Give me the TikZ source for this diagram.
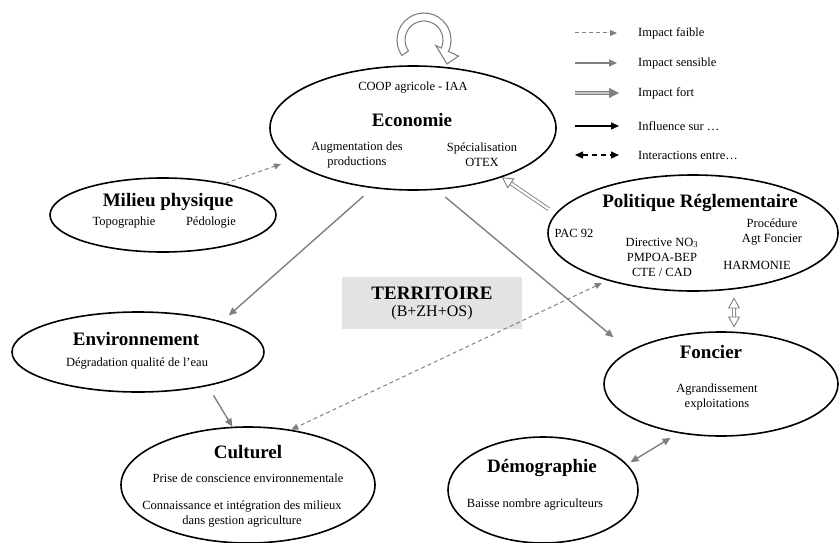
\documentclass[tikz,border=0pt]{standalone}
\usepackage{fontspec}
\setmainfont{Liberation Serif}
\usetikzlibrary{shapes.geometric, arrows.meta}

\tikzset{
  bulle/.style={draw, ellipse, line width=1.6pt, inner sep=0pt},
  titre/.style={font=\fontsize{19}{21}\selectfont\bfseries, inner sep=0pt},
  texte/.style={font=\fontsize{12.5}{15}\selectfont, align=center, inner sep=0pt},
  legende/.style={font=\fontsize{12.5}{15}\selectfont, anchor=west, inner sep=0pt},
  faible/.style={gray, line width=1pt, dash pattern=on 4pt off 3pt, >={Triangle[length=7pt, width=6pt]}, ->},
  sensible/.style={gray, line width=1.4pt, >={Triangle[length=8pt, width=7pt]}, ->},
  fort/.style={gray, line width=0.9pt, double=white, double distance=2.2pt, >={Triangle[open, length=11pt, width=12pt]}, ->},
  fortplein/.style={gray, line width=0.9pt, double=gray!45, double distance=2pt, >={Triangle[length=10pt, width=10pt]}, ->},
  influence/.style={black, line width=1.4pt, >={Triangle[length=8pt, width=7pt]}, ->},
  interaction/.style={black, line width=1.4pt, dash pattern=on 5pt off 4pt, >={Triangle[length=8pt, width=7pt]}, <->},
}

\begin{document}
\begin{tikzpicture}[x=1pt, y=-1pt]

    \useasboundingbox (0,0) rectangle (840,543);

    % 1. Les ellipses
    \node[bulle, minimum width=286pt, minimum height=124pt] (eco) at (413,128) {};
    \node[bulle, minimum width=226pt, minimum height=74pt] (mil) at (163,215) {};
    \node[bulle, minimum width=290pt, minimum height=116pt] (pol) at (693,233) {};
    \node[bulle, minimum width=252pt, minimum height=80pt] (env) at (138,352) {};
    \node[bulle, minimum width=234pt, minimum height=104pt] (fon) at (721,384) {};
    \node[bulle, minimum width=254pt, minimum height=116pt] (cul) at (248,485) {};
    \node[bulle, minimum width=190pt, minimum height=106pt] (dem) at (543,490) {};

    % 2. Textes Economie
    \node[texte] (coop) at (413,88) {COOP agricole - IAA};
    \node[titre] (ecotitre) at (412,120) {Economie};
    \node[texte] (augm) at (357,155) {Augmentation des\\productions};
    \node[texte] (spec) at (482,155) {Spécialisation\\OTEX};

    % 3. Textes Milieu physique
    \node[titre] (miltitre) at (168,202) {Milieu physique};
    \node[texte] (topo) at (124,223) {Topographie};
    \node[texte] (pedo) at (211,223) {Pédologie};

    % 4. Textes Politique Réglementaire
    \node[titre] (poltitre) at (700,203) {Politique Réglementaire};
    \node[texte] (pac) at (574,233) {PAC 92};
    \node[texte] (dir) at (662,257) {Directive NO\textsubscript{3}\\PMPOA-BEP\\CTE / CAD};
    \node[texte] (proc) at (772,232) {Procédure\\Agt Foncier};
    \node[texte] (harm) at (757,265) {HARMONIE};

    % 5. Textes Environnement, Foncier, Culturel, Démographie
    \node[titre] (envtitre) at (136,339) {Environnement};
    \node[texte] (degr) at (137,363) {Dégradation qualité de l'eau};
    \node[titre] (fontitre) at (711,352) {Foncier};
    \node[texte] (agr) at (717,397) {Agrandissement\\exploitations};
    \node[titre] (cultitre) at (248,452) {Culturel};
    \node[texte] (prise) at (248,478) {Prise de conscience environnementale};
    \node[texte] (conn) at (242,514) {Connaissance et intégration des milieux\\dans gestion agriculture};
    \node[titre] (demtitre) at (542,468) {Démographie};
    \node[texte] (baisse) at (535,505) {Baisse nombre agriculteurs};

    % 6. Cadre TERRITOIRE
    \node[fill=gray!22, minimum width=180pt, minimum height=52pt] (terr) at (432,303) {};
    \node[titre] (terrtitre) at (432,293) {TERRITOIRE};
    \node[font=\fontsize{16}{18}\selectfont, inner sep=0pt] (terrsous) at (432,313) {(B+ZH+OS)};

    % 7. Les flèches entre les ellipses
    \draw[faible, shorten >=10pt] (mil.27) -- (eco.195);
    \draw[sensible, shorten <=12pt, shorten >=9pt] (eco.236) -- (env.20);
    \draw[sensible, shorten <=11pt, shorten >=21pt] (eco.291) -- (fon.160);
    \draw[fort, shorten <=8pt] (pol.172) -- (eco.331);
    \draw[fort, <->, shorten <=8pt, shorten >=4pt] (pol.306) -- (fon.76);
    \draw[faible, <->, shorten <=6pt] (pol.209) -- (cul.52);
    \draw[sensible, shorten <=11pt] (env.334) -- (cul.105);
    \draw[sensible, <->, shorten <=4pt, shorten >=9pt] (dem.17) -- (fon.229);

    % 8. Flèche circulaire sur Economie
    \begin{scope}[shift={(424,40)}]
        \draw[gray, line width=1.1pt, fill=white] (-215:27) arc[start angle=-215, end angle=25, radius=27]
            -- (25:38) -- (23,24) -- (25:13) -- (25:19) arc[start angle=25, end angle=-215, radius=19] -- cycle;
    \end{scope}

    % 9. Légende
    \node[legende] (lfaible) at (638,33) {Impact faible};
    \node[legende] (lsensible) at (638,63) {Impact sensible};
    \node[legende] (lfort) at (638,93) {Impact fort};
    \node[legende] (linfl) at (638,126) {Influence sur …};
    \node[legende] (linter) at (638,155) {Interactions entre…};
    \draw[faible] ([xshift=-63pt]lfaible.west) -- ([xshift=-21pt]lfaible.west);
    \draw[sensible] ([xshift=-63pt]lsensible.west) -- ([xshift=-21pt]lsensible.west);
    \draw[fortplein] ([xshift=-63pt]lfort.west) -- ([xshift=-19pt]lfort.west);
    \draw[influence] ([xshift=-63pt]linfl.west) -- ([xshift=-19pt]linfl.west);
    \draw[interaction] ([xshift=-63pt]linter.west) -- ([xshift=-19pt]linter.west);

\end{tikzpicture}
\end{document}
